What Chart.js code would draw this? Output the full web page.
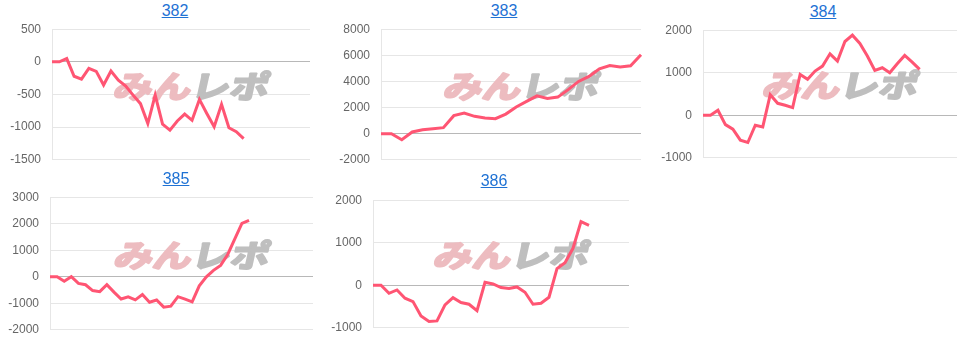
<!DOCTYPE html>
<html><head><meta charset="utf-8">
<script src="https://cdn.jsdelivr.net/npm/chart.js@4"></script>
<style>
body{margin:0;background:#fff;font-family:"Liberation Sans",Arial,sans-serif;}
#wrap{position:relative;width:974px;height:340px;overflow:hidden}
.ttl{position:absolute;width:80px;margin-left:-40px;text-align:center;font-size:16px;line-height:18px;color:#1f72d4;text-decoration:underline}
.cw{position:absolute}
</style></head><body><div id="wrap"></div>
<script>
const titles=['382','383','384','385','386'];
const labelCounts=[36,26,35,38,33];
const s382=[0,0,50,-220,-265,-100,-145,-355,-140,-280,-370,-510,-640,-945,-510,-955,-1045,-905,-800,-895,-575,-790,-995,-650,-1010,-1070,-1175];
const s383=[0,0,-460,130,300,380,460,1380,1580,1330,1200,1150,1500,2040,2470,2900,2700,2800,3370,4000,4380,4970,5220,5100,5200,6040];
const s384=[0,0,117,-219,-328,-586,-640,-234,-273,484,281,234,180,961,844,1039,1156,1445,1273,1734,1883,1688,1391,1055,1117,1000,1211,1406,1250,1078];
const s385=[0,0,-170,0,-250,-300,-520,-560,-300,-580,-840,-755,-870,-670,-960,-875,-1145,-1110,-750,-840,-945,-340,0,240,430,840,1430,2010,2125];
const s386=[0,0,-188,-110,-305,-384,-720,-853,-838,-462,-290,-407,-446,-595,70,31,-55,-78,-39,-164,-446,-423,-282,392,532,869,1496,1410];
const series=[s382,s383,s384,s385,s386];
const yMin=[-1500,-2000,-1000,-2000,-1000];
const yMax=[500,8000,2000,3000,2000];
const ySteps=[500,2000,1000,1000,1000];

// plot boxes [left, top, right, bottom] and title centres
const plots=[[52,29,310,160],[381,29,641,160],[703,30,957,158],[50,197,313,330],[373,200,629,328]];
const titleAt=[[175,11],[504,11],[823,12],[176,179],[494,181]];
const AXW=50, PAD=18; // PAD = half a tick label + tick padding

// faint logo behind the line
const mark={id:'mark',beforeDatasetsDraw(ch){
  const a=ch.chartArea,c=ch.ctx;
  const x=(a.left+a.right)/2+10,y=a.top+(a.bottom-a.top)*0.435;
  c.save();
  c.translate(x,y);
  c.transform(1.25,0,-0.22,1,0,0);
  c.font='bold 31px "Noto Sans CJK JP"';
  c.textBaseline='middle';
  c.lineWidth=2.2;c.lineJoin='round';
  c.fillStyle=c.strokeStyle='#edbcc0';
  c.textAlign='right';
  c.fillText('みん',1,0);c.strokeText('みん',1,0);
  c.fillStyle=c.strokeStyle='#bfbfbf';
  c.textAlign='left';
  c.fillText('レポ',1,0);c.strokeText('レポ',1,0);
  c.restore();
}};

const wrap=document.getElementById('wrap');
titles.forEach((t,i)=>{
  const [L,T,R,B]=plots[i];
  const a=document.createElement('a');
  a.className='ttl';a.href='#';a.textContent=t;
  a.style.left=titleAt[i][0]+'px';a.style.top=(titleAt[i][1]-9)+'px';
  wrap.appendChild(a);
  const d=document.createElement('div');
  d.className='cw';
  d.style.left=(L-AXW)+'px';d.style.top=(T-PAD)+'px';
  d.style.width=(R-L+AXW+4)+'px';d.style.height=(B-T+2*PAD)+'px';
  const cv=document.createElement('canvas');
  d.appendChild(cv);wrap.appendChild(d);
  const labels=Array.from({length:labelCounts[i]},(_,k)=>k+1);
  new Chart(cv,{
    type:'line',
    data:{labels,datasets:[{data:series[i],borderColor:'rgb(255,85,115)',borderWidth:3,pointRadius:0,tension:0,fill:false}]},
    options:{
      animation:false,responsive:true,maintainAspectRatio:false,
      layout:{padding:{top:0,bottom:0,left:0,right:4}},
      plugins:{legend:{display:false},tooltip:{enabled:false}},
      scales:{
        x:{display:false},
        y:{min:yMin[i],max:yMax[i],
          afterFit(s){s.width=AXW;},
          ticks:{stepSize:ySteps[i],padding:11,color:'#666',callback:v=>String(v),font:{size:12,family:'"Liberation Sans", Arial, sans-serif'}},
          grid:{drawTicks:false,color:c=>c.tick&&c.tick.value===0?'#b8b8b8':'#e6e6e6'},
          border:{color:'#e6e6e6'}}
      }
    },
    plugins:[mark]
  });
});
</script></body></html>
